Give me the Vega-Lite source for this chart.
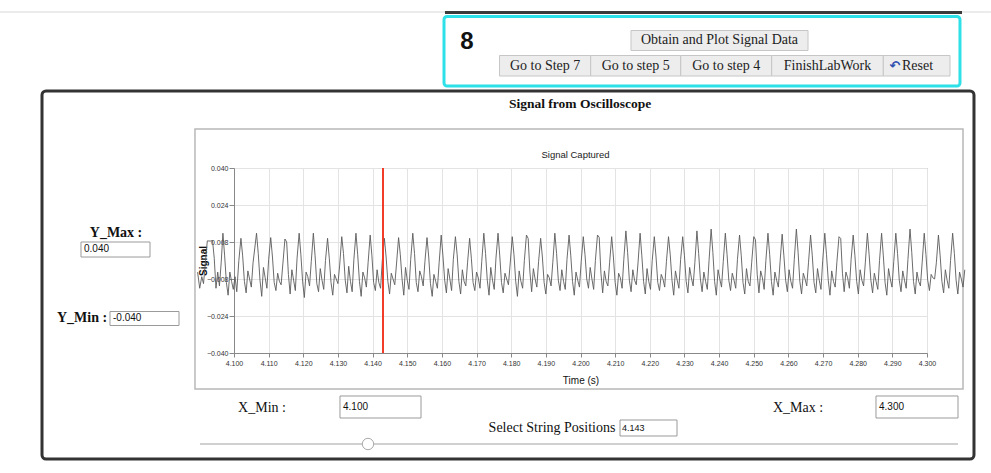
{
"$schema": "https://vega.github.io/schema/vega-lite/v6.json",
"width": 693, "height": 185,
"autosize": {"type": "none"},
"padding": {"left": 234, "top": 168, "right": 64, "bottom": 120},
"background": "white",
"config": {"view": {"stroke": "#999999", "strokeWidth": 1}, "font": "Liberation Sans"},
"resolve": {"axis": {"x": "independent", "y": "independent"}},
"data": {"values": [{}]},
"datasets": {"signal": [
{"t":4.0895,"v":-0.0050},{"t":4.0901,"v":-0.0120},{"t":4.0907,"v":-0.0070},{"t":4.0912,"v":-0.0100},{"t":4.0918,"v":0.0000},{"t":4.0923,"v":0.0085},{"t":4.0931,"v":0.0084},{"t":4.0938,"v":0.0086},{"t":4.0943,"v":0.0010},{"t":4.0948,"v":-0.0120},{"t":4.0953,"v":-0.0050},{"t":4.0958,"v":-0.0110},{"t":4.0963,"v":-0.0010},{"t":4.0968,"v":0.0118},{"t":4.0973,"v":0.0020},{"t":4.0978,"v":-0.0095},{"t":4.0983,"v":-0.0150},{"t":4.0988,"v":-0.0050},{"t":4.0993,"v":-0.0090},{"t":4.0998,"v":-0.0125},{"t":4.1003,"v":-0.0070},{"t":4.1008,"v":-0.0135},{"t":4.1014,"v":0.0000},
{"t":4.1020,"v":0.0096},{"t":4.1025,"v":0.0020},{"t":4.1030,"v":-0.0090},{"t":4.1035,"v":-0.0140},{"t":4.1040,"v":-0.0045},{"t":4.1045,"v":-0.0080},{"t":4.1050,"v":-0.0115},{"t":4.1055,"v":-0.0010},
{"t":4.1065,"v":0.0118},{"t":4.1070,"v":0.0030},{"t":4.1075,"v":-0.0085},{"t":4.1080,"v":-0.0155},{"t":4.1085,"v":-0.0030},{"t":4.1090,"v":-0.0075},{"t":4.1095,"v":-0.0120},{"t":4.1100,"v":0.0005},
{"t":4.1106,"v":0.0099},{"t":4.1111,"v":0.0015},{"t":4.1116,"v":-0.0095},{"t":4.1121,"v":-0.0130},{"t":4.1126,"v":-0.0055},{"t":4.1131,"v":-0.0090},{"t":4.1136,"v":-0.0105},{"t":4.1141,"v":-0.0015},
{"t":4.1147,"v":0.0093},{"t":4.1152,"v":0.0080},{"t":4.1157,"v":-0.0060},{"t":4.1162,"v":-0.0145},{"t":4.1167,"v":-0.0040},{"t":4.1172,"v":-0.0085},{"t":4.1177,"v":-0.0130},{"t":4.1182,"v":0.0010},
{"t":4.1188,"v":0.0118},{"t":4.1193,"v":0.0025},{"t":4.1198,"v":-0.0090},{"t":4.1203,"v":-0.0160},{"t":4.1208,"v":-0.0050},{"t":4.1213,"v":-0.0070},{"t":4.1218,"v":-0.0110},{"t":4.1223,"v":-0.0005},
{"t":4.1229,"v":0.0118},{"t":4.1234,"v":0.0020},{"t":4.1239,"v":-0.0100},{"t":4.1244,"v":-0.0135},{"t":4.1249,"v":-0.0035},{"t":4.1254,"v":-0.0085},{"t":4.1259,"v":-0.0125},{"t":4.1264,"v":0.0000},
{"t":4.1270,"v":0.0096},{"t":4.1275,"v":0.0010},{"t":4.1280,"v":-0.0095},{"t":4.1285,"v":-0.0150},{"t":4.1290,"v":-0.0060},{"t":4.1295,"v":-0.0080},{"t":4.1300,"v":-0.0100},{"t":4.1305,"v":-0.0020},
{"t":4.1311,"v":0.0103},{"t":4.1316,"v":0.0030},{"t":4.1321,"v":-0.0085},{"t":4.1326,"v":-0.0140},{"t":4.1331,"v":-0.0025},{"t":4.1336,"v":-0.0090},{"t":4.1341,"v":-0.0135},{"t":4.1346,"v":0.0005},
{"t":4.1352,"v":0.0118},{"t":4.1357,"v":0.0025},{"t":4.1362,"v":-0.0090},{"t":4.1367,"v":-0.0155},{"t":4.1372,"v":-0.0050},{"t":4.1377,"v":-0.0075},{"t":4.1382,"v":-0.0115},{"t":4.1387,"v":-0.0010},
{"t":4.1393,"v":0.0110},{"t":4.1398,"v":0.0020},{"t":4.1403,"v":-0.0095},{"t":4.1408,"v":-0.0130},{"t":4.1413,"v":-0.0040},{"t":4.1418,"v":-0.0095},{"t":4.1423,"v":-0.0120},{"t":4.1428,"v":0.0000},
{"t":4.1434,"v":0.0096},{"t":4.1439,"v":0.0015},{"t":4.1444,"v":-0.0090},{"t":4.1449,"v":-0.0145},{"t":4.1454,"v":-0.0055},{"t":4.1459,"v":-0.0080},{"t":4.1464,"v":-0.0105},{"t":4.1469,"v":-0.0015},
{"t":4.1475,"v":0.0099},{"t":4.1480,"v":0.0025},{"t":4.1485,"v":-0.0080},{"t":4.1490,"v":-0.0150},{"t":4.1495,"v":-0.0030},{"t":4.1500,"v":-0.0085},{"t":4.1505,"v":-0.0125},{"t":4.1510,"v":0.0005},
{"t":4.1516,"v":0.0118},{"t":4.1521,"v":0.0030},{"t":4.1526,"v":-0.0095},{"t":4.1531,"v":-0.0135},{"t":4.1536,"v":-0.0045},{"t":4.1541,"v":-0.0070},{"t":4.1546,"v":-0.0110},{"t":4.1551,"v":-0.0005},
{"t":4.1557,"v":0.0099},{"t":4.1562,"v":0.0015},{"t":4.1567,"v":-0.0100},{"t":4.1572,"v":-0.0155},{"t":4.1577,"v":-0.0060},{"t":4.1582,"v":-0.0090},{"t":4.1587,"v":-0.0120},{"t":4.1592,"v":-0.0010},
{"t":4.1598,"v":0.0110},{"t":4.1603,"v":0.0020},{"t":4.1608,"v":-0.0085},{"t":4.1613,"v":-0.0140},{"t":4.1618,"v":-0.0035},{"t":4.1623,"v":-0.0080},{"t":4.1628,"v":-0.0130},{"t":4.1633,"v":0.0005},
{"t":4.1639,"v":0.0103},{"t":4.1644,"v":0.0025},{"t":4.1649,"v":-0.0090},{"t":4.1654,"v":-0.0145},{"t":4.1659,"v":-0.0040},{"t":4.1664,"v":-0.0090},{"t":4.1669,"v":-0.0110},{"t":4.1674,"v":-0.0010},
{"t":4.1680,"v":0.0096},{"t":4.1685,"v":0.0010},{"t":4.1690,"v":-0.0095},{"t":4.1695,"v":-0.0130},{"t":4.1700,"v":-0.0050},{"t":4.1705,"v":-0.0075},{"t":4.1710,"v":-0.0120},{"t":4.1715,"v":-0.0005},
{"t":4.1721,"v":0.0118},{"t":4.1726,"v":0.0030},{"t":4.1731,"v":-0.0085},{"t":4.1736,"v":-0.0150},{"t":4.1741,"v":-0.0030},{"t":4.1746,"v":-0.0085},{"t":4.1751,"v":-0.0125},{"t":4.1756,"v":0.0010},
{"t":4.1762,"v":0.0118},{"t":4.1767,"v":0.0020},{"t":4.1772,"v":-0.0095},{"t":4.1777,"v":-0.0140},{"t":4.1782,"v":-0.0055},{"t":4.1787,"v":-0.0080},{"t":4.1792,"v":-0.0105},{"t":4.1797,"v":-0.0015},
{"t":4.1803,"v":0.0103},{"t":4.1808,"v":0.0025},{"t":4.1813,"v":-0.0090},{"t":4.1818,"v":-0.0155},{"t":4.1823,"v":-0.0045},{"t":4.1828,"v":-0.0090},{"t":4.1833,"v":-0.0120},{"t":4.1838,"v":0.0000},
{"t":4.1844,"v":0.0110},{"t":4.1849,"v":0.0095},{"t":4.1854,"v":-0.0050},{"t":4.1859,"v":-0.0135},{"t":4.1864,"v":-0.0035},{"t":4.1869,"v":-0.0080},{"t":4.1874,"v":-0.0115},{"t":4.1879,"v":-0.0005},
{"t":4.1885,"v":0.0096},{"t":4.1890,"v":0.0015},{"t":4.1895,"v":-0.0095},{"t":4.1900,"v":-0.0145},{"t":4.1905,"v":-0.0060},{"t":4.1910,"v":-0.0075},{"t":4.1915,"v":-0.0110},{"t":4.1920,"v":-0.0010},
{"t":4.1926,"v":0.0118},{"t":4.1931,"v":0.0030},{"t":4.1936,"v":-0.0085},{"t":4.1941,"v":-0.0130},{"t":4.1946,"v":-0.0040},{"t":4.1951,"v":-0.0090},{"t":4.1956,"v":-0.0125},{"t":4.1961,"v":0.0005},
{"t":4.1967,"v":0.0110},{"t":4.1972,"v":0.0020},{"t":4.1977,"v":-0.0090},{"t":4.1982,"v":-0.0150},{"t":4.1987,"v":-0.0050},{"t":4.1992,"v":-0.0085},{"t":4.1997,"v":-0.0115},{"t":4.2002,"v":-0.0005},
{"t":4.2008,"v":0.0103},{"t":4.2013,"v":0.0025},{"t":4.2018,"v":-0.0080},{"t":4.2023,"v":-0.0120},{"t":4.2028,"v":-0.0030},{"t":4.2033,"v":-0.0080},{"t":4.2038,"v":-0.0125},{"t":4.2043,"v":0.0000},
{"t":4.2049,"v":0.0110},{"t":4.2054,"v":0.0100},{"t":4.2059,"v":-0.0055},{"t":4.2064,"v":-0.0140},{"t":4.2069,"v":-0.0045},{"t":4.2074,"v":-0.0090},{"t":4.2079,"v":-0.0110},{"t":4.2084,"v":-0.0010},
{"t":4.2090,"v":0.0103},{"t":4.2095,"v":0.0015},{"t":4.2100,"v":-0.0095},{"t":4.2105,"v":-0.0150},{"t":4.2110,"v":-0.0055},{"t":4.2115,"v":-0.0075},{"t":4.2120,"v":-0.0120},{"t":4.2125,"v":0.0005},
{"t":4.2131,"v":0.0128},{"t":4.2136,"v":0.0035},{"t":4.2141,"v":-0.0085},{"t":4.2146,"v":-0.0135},{"t":4.2151,"v":-0.0040},{"t":4.2156,"v":-0.0085},{"t":4.2161,"v":-0.0105},{"t":4.2166,"v":-0.0010},
{"t":4.2172,"v":0.0118},{"t":4.2177,"v":0.0020},{"t":4.2182,"v":-0.0090},{"t":4.2187,"v":-0.0145},{"t":4.2192,"v":-0.0035},{"t":4.2197,"v":-0.0090},{"t":4.2202,"v":-0.0125},{"t":4.2207,"v":0.0000},
{"t":4.2213,"v":0.0103},{"t":4.2218,"v":0.0015},{"t":4.2223,"v":-0.0095},{"t":4.2228,"v":-0.0130},{"t":4.2233,"v":-0.0060},{"t":4.2238,"v":-0.0080},{"t":4.2243,"v":-0.0115},{"t":4.2248,"v":-0.0005},
{"t":4.2254,"v":0.0103},{"t":4.2259,"v":0.0025},{"t":4.2264,"v":-0.0085},{"t":4.2269,"v":-0.0150},{"t":4.2274,"v":-0.0045},{"t":4.2279,"v":-0.0085},{"t":4.2284,"v":-0.0120},{"t":4.2289,"v":0.0005},
{"t":4.2295,"v":0.0103},{"t":4.2300,"v":0.0020},{"t":4.2305,"v":-0.0090},{"t":4.2310,"v":-0.0140},{"t":4.2315,"v":-0.0030},{"t":4.2320,"v":-0.0075},{"t":4.2325,"v":-0.0110},{"t":4.2330,"v":-0.0010},
{"t":4.2336,"v":0.0128},{"t":4.2341,"v":0.0030},{"t":4.2346,"v":-0.0080},{"t":4.2351,"v":-0.0135},{"t":4.2356,"v":-0.0050},{"t":4.2361,"v":-0.0090},{"t":4.2366,"v":-0.0125},{"t":4.2371,"v":0.0000},
{"t":4.2377,"v":0.0136},{"t":4.2382,"v":0.0035},{"t":4.2387,"v":-0.0090},{"t":4.2392,"v":-0.0150},{"t":4.2397,"v":-0.0040},{"t":4.2402,"v":-0.0080},{"t":4.2407,"v":-0.0115},{"t":4.2412,"v":-0.0005},
{"t":4.2418,"v":0.0118},{"t":4.2423,"v":0.0025},{"t":4.2428,"v":-0.0085},{"t":4.2433,"v":-0.0130},{"t":4.2438,"v":-0.0055},{"t":4.2443,"v":-0.0085},{"t":4.2448,"v":-0.0120},{"t":4.2453,"v":0.0005},
{"t":4.2459,"v":0.0110},{"t":4.2464,"v":0.0020},{"t":4.2469,"v":-0.0095},{"t":4.2474,"v":-0.0145},{"t":4.2479,"v":-0.0035},{"t":4.2484,"v":-0.0090},{"t":4.2489,"v":-0.0110},{"t":4.2494,"v":-0.0010},
{"t":4.2500,"v":0.0103},{"t":4.2505,"v":0.0090},{"t":4.2510,"v":-0.0060},{"t":4.2515,"v":-0.0140},{"t":4.2520,"v":-0.0045},{"t":4.2525,"v":-0.0075},{"t":4.2530,"v":-0.0125},{"t":4.2535,"v":0.0000},
{"t":4.2541,"v":0.0118},{"t":4.2546,"v":0.0025},{"t":4.2551,"v":-0.0090},{"t":4.2556,"v":-0.0150},{"t":4.2561,"v":-0.0050},{"t":4.2566,"v":-0.0085},{"t":4.2571,"v":-0.0115},{"t":4.2576,"v":-0.0005},
{"t":4.2582,"v":0.0114},{"t":4.2587,"v":0.0020},{"t":4.2592,"v":-0.0085},{"t":4.2597,"v":-0.0135},{"t":4.2602,"v":-0.0040},{"t":4.2607,"v":-0.0090},{"t":4.2612,"v":-0.0120},{"t":4.2617,"v":0.0005},
{"t":4.2623,"v":0.0136},{"t":4.2628,"v":0.0035},{"t":4.2633,"v":-0.0090},{"t":4.2638,"v":-0.0145},{"t":4.2643,"v":-0.0055},{"t":4.2648,"v":-0.0080},{"t":4.2653,"v":-0.0110},{"t":4.2658,"v":-0.0010},
{"t":4.2664,"v":0.0110},{"t":4.2669,"v":0.0020},{"t":4.2674,"v":-0.0095},{"t":4.2679,"v":-0.0140},{"t":4.2684,"v":-0.0035},{"t":4.2689,"v":-0.0085},{"t":4.2694,"v":-0.0125},{"t":4.2699,"v":0.0000},
{"t":4.2705,"v":0.0118},{"t":4.2710,"v":0.0025},{"t":4.2715,"v":-0.0085},{"t":4.2720,"v":-0.0150},{"t":4.2725,"v":-0.0045},{"t":4.2730,"v":-0.0090},{"t":4.2735,"v":-0.0115},{"t":4.2740,"v":-0.0005},
{"t":4.2746,"v":0.0103},{"t":4.2751,"v":0.0095},{"t":4.2756,"v":-0.0055},{"t":4.2761,"v":-0.0135},{"t":4.2766,"v":-0.0050},{"t":4.2771,"v":-0.0075},{"t":4.2776,"v":-0.0120},{"t":4.2781,"v":0.0005},
{"t":4.2787,"v":0.0110},{"t":4.2792,"v":0.0020},{"t":4.2797,"v":-0.0090},{"t":4.2802,"v":-0.0145},{"t":4.2807,"v":-0.0040},{"t":4.2812,"v":-0.0085},{"t":4.2817,"v":-0.0110},{"t":4.2822,"v":-0.0010},
{"t":4.2828,"v":0.0118},{"t":4.2833,"v":0.0025},{"t":4.2838,"v":-0.0085},{"t":4.2843,"v":-0.0140},{"t":4.2848,"v":-0.0055},{"t":4.2853,"v":-0.0090},{"t":4.2858,"v":-0.0125},{"t":4.2863,"v":0.0000},
{"t":4.2869,"v":0.0118},{"t":4.2874,"v":0.0020},{"t":4.2879,"v":-0.0095},{"t":4.2884,"v":-0.0150},{"t":4.2889,"v":-0.0035},{"t":4.2894,"v":-0.0080},{"t":4.2899,"v":-0.0115},{"t":4.2904,"v":-0.0005},
{"t":4.2910,"v":0.0118},{"t":4.2915,"v":0.0030},{"t":4.2920,"v":-0.0085},{"t":4.2925,"v":-0.0135},{"t":4.2930,"v":-0.0045},{"t":4.2935,"v":-0.0085},{"t":4.2940,"v":-0.0120},{"t":4.2945,"v":0.0005},
{"t":4.2951,"v":0.0136},{"t":4.2956,"v":0.0035},{"t":4.2961,"v":-0.0090},{"t":4.2966,"v":-0.0145},{"t":4.2971,"v":-0.0050},{"t":4.2976,"v":-0.0090},{"t":4.2981,"v":-0.0110},{"t":4.2986,"v":-0.0010},
{"t":4.2992,"v":0.0118},{"t":4.2997,"v":0.0025},{"t":4.3002,"v":-0.0085},{"t":4.3007,"v":-0.0130},{"t":4.3012,"v":-0.0060},{"t":4.3017,"v":-0.0075},{"t":4.3022,"v":-0.0080},{"t":4.3027,"v":-0.0010},
{"t":4.3033,"v":0.0110},{"t":4.3038,"v":0.0020},{"t":4.3043,"v":-0.0090},{"t":4.3048,"v":-0.0140},{"t":4.3053,"v":-0.0040},{"t":4.3058,"v":-0.0085},{"t":4.3063,"v":-0.0120},{"t":4.3068,"v":0.0000},
{"t":4.3074,"v":0.0118},{"t":4.3079,"v":0.0030},{"t":4.3084,"v":-0.0085},{"t":4.3089,"v":-0.0145},{"t":4.3094,"v":-0.0050},{"t":4.3099,"v":-0.0080},{"t":4.3104,"v":-0.0115},{"t":4.3109,"v":-0.0040}
]},
"layer": [
{"mark": {"type": "rule", "color": "#d9d9d9", "strokeWidth": 1, "clip": false}, "encoding": {"x": {"datum": 4.03247, "type": "quantitative", "axis": null}, "x2": {"datum": 4.31847}, "y": {"datum": 0.10746, "type": "quantitative", "axis": null}}},
{"mark": {"type": "rect", "fill": "#3a3a3a", "clip": false}, "encoding": {"x": {"datum": 4.16089, "type": "quantitative", "axis": null}, "x2": {"datum": 4.31010}, "y": {"datum": 0.10789, "type": "quantitative", "axis": null}, "y2": {"datum": 0.10659}}},
{"mark": {"type": "rect", "fill": "#ffffff", "stroke": "#2ee0e8", "strokeWidth": 3, "cornerRadius": 3, "clip": false}, "encoding": {"x": {"datum": 4.16061, "type": "quantitative", "axis": null}, "x2": {"datum": 4.30952}, "y": {"datum": 0.10551, "type": "quantitative", "axis": null}, "y2": {"datum": 0.07546}}},
{"mark": {"type": "text", "text": "8", "font": "Liberation Sans", "fontSize": 24, "fontWeight": "bold", "color": "#111111", "align": "center", "baseline": "middle", "clip": false}, "encoding": {"x": {"datum": 4.16724, "type": "quantitative", "axis": null}, "y": {"datum": 0.09449, "type": "quantitative", "axis": null}}},
{"mark": {"type": "rect", "fill": "#ededed", "stroke": "#c6c6c6", "strokeWidth": 1, "clip": false}, "encoding": {"x": {"datum": 4.21457, "type": "quantitative", "axis": null}, "x2": {"datum": 4.26566}, "y": {"datum": 0.09946, "type": "quantitative", "axis": null}, "y2": {"datum": 0.09081}}},
{"mark": {"type": "text", "text": "Obtain and Plot Signal Data", "font": "Liberation Serif", "fontSize": 14, "color": "#222222", "align": "center", "baseline": "middle", "clip": false}, "encoding": {"x": {"datum": 4.24012, "type": "quantitative", "axis": null}, "y": {"datum": 0.09514, "type": "quantitative", "axis": null}}},
{"mark": {"type": "rect", "fill": "#ededed", "stroke": "#c6c6c6", "strokeWidth": 1, "clip": false}, "encoding": {"x": {"datum": 4.17662, "type": "quantitative", "axis": null}, "x2": {"datum": 4.20294}, "y": {"datum": 0.08865, "type": "quantitative", "axis": null}, "y2": {"datum": 0.07978}}},
{"mark": {"type": "rect", "fill": "#ededed", "stroke": "#c6c6c6", "strokeWidth": 1, "clip": false}, "encoding": {"x": {"datum": 4.20294, "type": "quantitative", "axis": null}, "x2": {"datum": 4.22892}, "y": {"datum": 0.08865, "type": "quantitative", "axis": null}, "y2": {"datum": 0.07978}}},
{"mark": {"type": "rect", "fill": "#ededed", "stroke": "#c6c6c6", "strokeWidth": 1, "clip": false}, "encoding": {"x": {"datum": 4.22892, "type": "quantitative", "axis": null}, "x2": {"datum": 4.25518}, "y": {"datum": 0.08865, "type": "quantitative", "axis": null}, "y2": {"datum": 0.07978}}},
{"mark": {"type": "rect", "fill": "#ededed", "stroke": "#c6c6c6", "strokeWidth": 1, "clip": false}, "encoding": {"x": {"datum": 4.25518, "type": "quantitative", "axis": null}, "x2": {"datum": 4.28739}, "y": {"datum": 0.08865, "type": "quantitative", "axis": null}, "y2": {"datum": 0.07978}}},
{"mark": {"type": "rect", "fill": "#ededed", "stroke": "#c6c6c6", "strokeWidth": 1, "clip": false}, "encoding": {"x": {"datum": 4.28739, "type": "quantitative", "axis": null}, "x2": {"datum": 4.30664}, "y": {"datum": 0.08865, "type": "quantitative", "axis": null}, "y2": {"datum": 0.07978}}},
{"mark": {"type": "text", "text": "Go to Step 7", "font": "Liberation Serif", "fontSize": 14, "color": "#222222", "align": "center", "baseline": "middle", "clip": false}, "encoding": {"x": {"datum": 4.18978, "type": "quantitative", "axis": null}, "y": {"datum": 0.08411, "type": "quantitative", "axis": null}}},
{"mark": {"type": "text", "text": "Go to step 5", "font": "Liberation Serif", "fontSize": 14, "color": "#222222", "align": "center", "baseline": "middle", "clip": false}, "encoding": {"x": {"datum": 4.21593, "type": "quantitative", "axis": null}, "y": {"datum": 0.08411, "type": "quantitative", "axis": null}}},
{"mark": {"type": "text", "text": "Go to step 4", "font": "Liberation Serif", "fontSize": 14, "color": "#222222", "align": "center", "baseline": "middle", "clip": false}, "encoding": {"x": {"datum": 4.24205, "type": "quantitative", "axis": null}, "y": {"datum": 0.08411, "type": "quantitative", "axis": null}}},
{"mark": {"type": "text", "text": "FinishLabWork", "font": "Liberation Serif", "fontSize": 14, "color": "#222222", "align": "center", "baseline": "middle", "clip": false}, "encoding": {"x": {"datum": 4.27128, "type": "quantitative", "axis": null}, "y": {"datum": 0.08411, "type": "quantitative", "axis": null}}},
{"mark": {"type": "text", "text": "↶", "font": "DejaVu Sans", "fontSize": 13, "fontWeight": "bold", "color": "#2f52b0", "align": "center", "baseline": "middle", "clip": false}, "encoding": {"x": {"datum": 4.29077, "type": "quantitative", "axis": null}, "y": {"datum": 0.08411, "type": "quantitative", "axis": null}}},
{"mark": {"type": "text", "text": "Reset", "font": "Liberation Serif", "fontSize": 14, "color": "#222222", "align": "left", "baseline": "middle", "clip": false}, "encoding": {"x": {"datum": 4.29279, "type": "quantitative", "axis": null}, "y": {"datum": 0.08411, "type": "quantitative", "axis": null}}},
{"mark": {"type": "rect", "fill": "#ffffff", "fillOpacity": 0, "stroke": "#333333", "strokeWidth": 3, "cornerRadius": 4, "clip": false}, "encoding": {"x": {"datum": 4.04459, "type": "quantitative", "axis": null}, "x2": {"datum": 4.31356}, "y": {"datum": 0.07330, "type": "quantitative", "axis": null}, "y2": {"datum": -0.08584}}},
{"mark": {"type": "text", "text": "Signal from Oscilloscope", "font": "Liberation Serif", "fontSize": 13.5, "fontWeight": "bold", "color": "#111111", "align": "center", "baseline": "middle", "clip": false}, "encoding": {"x": {"datum": 4.19986, "type": "quantitative", "axis": null}, "y": {"datum": 0.06768, "type": "quantitative", "axis": null}}},
{"mark": {"type": "rect", "fill": "#ffffff", "fillOpacity": 0, "stroke": "#b8b8b8", "strokeWidth": 1.5, "clip": false}, "encoding": {"x": {"datum": 4.08874, "type": "quantitative", "axis": null}, "x2": {"datum": 4.31039}, "y": {"datum": 0.05686, "type": "quantitative", "axis": null}, "y2": {"datum": -0.05557}}},
{"mark": {"type": "text", "text": "Signal Captured", "font": "Liberation Sans", "fontSize": 9.5, "color": "#222222", "align": "center", "baseline": "middle", "clip": false}, "encoding": {"x": {"datum": 4.19856, "type": "quantitative", "axis": null}, "y": {"datum": 0.04562, "type": "quantitative", "axis": null}}},
{"mark": {"type": "text", "text": "Y_Max :", "font": "Liberation Serif", "fontSize": 14, "fontWeight": "bold", "color": "#111111", "align": "center", "baseline": "middle", "clip": false}, "encoding": {"x": {"datum": 4.06595, "type": "quantitative", "axis": null}, "y": {"datum": 0.01189, "type": "quantitative", "axis": null}}},
{"mark": {"type": "rect", "fill": "#ffffff", "stroke": "#9a9a9a", "strokeWidth": 1, "clip": false}, "encoding": {"x": {"datum": 4.05584, "type": "quantitative", "axis": null}, "x2": {"datum": 4.07576}, "y": {"datum": 0.00800, "type": "quantitative", "axis": null}, "y2": {"datum": 0.00151}}},
{"mark": {"type": "text", "text": "0.040", "font": "Liberation Sans", "fontSize": 10, "color": "#111111", "align": "left", "baseline": "middle", "clip": false}, "encoding": {"x": {"datum": 4.05671, "type": "quantitative", "axis": null}, "y": {"datum": 0.00476, "type": "quantitative", "axis": null}}},
{"mark": {"type": "text", "text": "Y_Min :", "font": "Liberation Serif", "fontSize": 14, "fontWeight": "bold", "color": "#111111", "align": "center", "baseline": "middle", "clip": false}, "encoding": {"x": {"datum": 4.05613, "type": "quantitative", "axis": null}, "y": {"datum": -0.02486, "type": "quantitative", "axis": null}}},
{"mark": {"type": "rect", "fill": "#ffffff", "stroke": "#9a9a9a", "strokeWidth": 1, "clip": false}, "encoding": {"x": {"datum": 4.06421, "type": "quantitative", "axis": null}, "x2": {"datum": 4.08413}, "y": {"datum": -0.02205, "type": "quantitative", "axis": null}, "y2": {"datum": -0.02811}}},
{"mark": {"type": "text", "text": "-0.040", "font": "Liberation Sans", "fontSize": 10, "color": "#111111", "align": "left", "baseline": "middle", "clip": false}, "encoding": {"x": {"datum": 4.06508, "type": "quantitative", "axis": null}, "y": {"datum": -0.02508, "type": "quantitative", "axis": null}}},
{"mark": {"type": "text", "text": "X_Min :", "font": "Liberation Serif", "fontSize": 14, "color": "#111111", "align": "center", "baseline": "middle", "clip": false}, "encoding": {"x": {"datum": 4.10808, "type": "quantitative", "axis": null}, "y": {"datum": -0.06378, "type": "quantitative", "axis": null}}},
{"mark": {"type": "rect", "fill": "#ffffff", "stroke": "#9a9a9a", "strokeWidth": 1, "clip": false}, "encoding": {"x": {"datum": 4.13059, "type": "quantitative", "axis": null}, "x2": {"datum": 4.15397}, "y": {"datum": -0.05859, "type": "quantitative", "axis": null}, "y2": {"datum": -0.06811}}},
{"mark": {"type": "text", "text": "4.100", "font": "Liberation Sans", "fontSize": 10, "color": "#111111", "align": "left", "baseline": "middle", "clip": false}, "encoding": {"x": {"datum": 4.13146, "type": "quantitative", "axis": null}, "y": {"datum": -0.06335, "type": "quantitative", "axis": null}}},
{"mark": {"type": "text", "text": "X_Max :", "font": "Liberation Serif", "fontSize": 14, "color": "#111111", "align": "center", "baseline": "middle", "clip": false}, "encoding": {"x": {"datum": 4.26277, "type": "quantitative", "axis": null}, "y": {"datum": -0.06378, "type": "quantitative", "axis": null}}},
{"mark": {"type": "rect", "fill": "#ffffff", "stroke": "#9a9a9a", "strokeWidth": 1, "clip": false}, "encoding": {"x": {"datum": 4.28528, "type": "quantitative", "axis": null}, "x2": {"datum": 4.30895}, "y": {"datum": -0.05859, "type": "quantitative", "axis": null}, "y2": {"datum": -0.06811}}},
{"mark": {"type": "text", "text": "4.300", "font": "Liberation Sans", "fontSize": 10, "color": "#111111", "align": "left", "baseline": "middle", "clip": false}, "encoding": {"x": {"datum": 4.28615, "type": "quantitative", "axis": null}, "y": {"datum": -0.06335, "type": "quantitative", "axis": null}}},
{"mark": {"type": "text", "text": "Select String Positions", "font": "Liberation Serif", "fontSize": 14, "color": "#111111", "align": "center", "baseline": "middle", "clip": false}, "encoding": {"x": {"datum": 4.19177, "type": "quantitative", "axis": null}, "y": {"datum": -0.07243, "type": "quantitative", "axis": null}}},
{"mark": {"type": "rect", "fill": "#ffffff", "stroke": "#9a9a9a", "strokeWidth": 1, "clip": false}, "encoding": {"x": {"datum": 4.21140, "type": "quantitative", "axis": null}, "x2": {"datum": 4.22785}, "y": {"datum": -0.06897, "type": "quantitative", "axis": null}, "y2": {"datum": -0.07589}}},
{"mark": {"type": "text", "text": "4.143", "font": "Liberation Sans", "fontSize": 9, "color": "#111111", "align": "left", "baseline": "middle", "clip": false}, "encoding": {"x": {"datum": 4.21197, "type": "quantitative", "axis": null}, "y": {"datum": -0.07243, "type": "quantitative", "axis": null}}},
{"mark": {"type": "rule", "color": "#d0d0d0", "strokeWidth": 2, "clip": false}, "encoding": {"x": {"datum": 4.09019, "type": "quantitative", "axis": null}, "x2": {"datum": 4.30895}, "y": {"datum": -0.07935, "type": "quantitative", "axis": null}}},
{"mark": {"type": "point", "filled": true, "fill": "#ffffff", "stroke": "#aaaaaa", "strokeWidth": 1, "size": 130, "opacity": 1, "clip": false}, "encoding": {"x": {"datum": 4.13867, "type": "quantitative", "axis": null}, "y": {"datum": -0.07935, "type": "quantitative", "axis": null}}},
{"data": {"name": "signal"}, "mark": {"type": "line", "color": "#5a5a5a", "strokeWidth": 0.9, "clip": false},
 "encoding": {
  "x": {"field": "t", "type": "quantitative", "scale": {"domain": [4.1, 4.3], "nice": false, "zero": false},
        "axis": {"title": "Time (s)", "values": [4.1,4.11,4.12,4.13,4.14,4.15,4.16,4.17,4.18,4.19,4.2,4.21,4.22,4.23,4.24,4.25,4.26,4.27,4.28,4.29,4.3], "format": ".3f", "labelFont": "Liberation Sans", "labelFontSize": 7, "labelColor": "#333333", "labelPadding": 2, "labelOverlap": false, "labelFlush": false, "tickColor": "#888888", "tickSize": 4, "domainColor": "#888888", "grid": true, "gridColor": "#e3e3e3", "titleFont": "Liberation Sans", "titleFontSize": 10, "titleFontWeight": "normal", "titleColor": "#111111", "titlePadding": 9}},
  "y": {"field": "v", "type": "quantitative", "scale": {"domain": [-0.04, 0.04], "nice": false, "zero": false},
        "axis": {"title": "Signal", "values": [-0.04,-0.024,-0.008,0.008,0.024,0.04], "format": ".3f", "labelFont": "Liberation Sans", "labelFontSize": 7, "labelColor": "#333333", "labelPadding": 1, "labelOverlap": false, "tickColor": "#888888", "tickSize": 5, "domainColor": "#888888", "grid": true, "gridColor": "#e3e3e3", "titleFont": "Liberation Sans", "titleFontSize": 10, "titleFontWeight": "bold", "titleColor": "#111111", "titleBaseline": "middle", "titleX": -31, "titleY": 92.5}}
 }},
{"mark": {"type": "rule", "color": "#f03c28", "strokeWidth": 2}, "encoding": {"x": {"datum": 4.143, "type": "quantitative", "axis": null}}}
]
}
